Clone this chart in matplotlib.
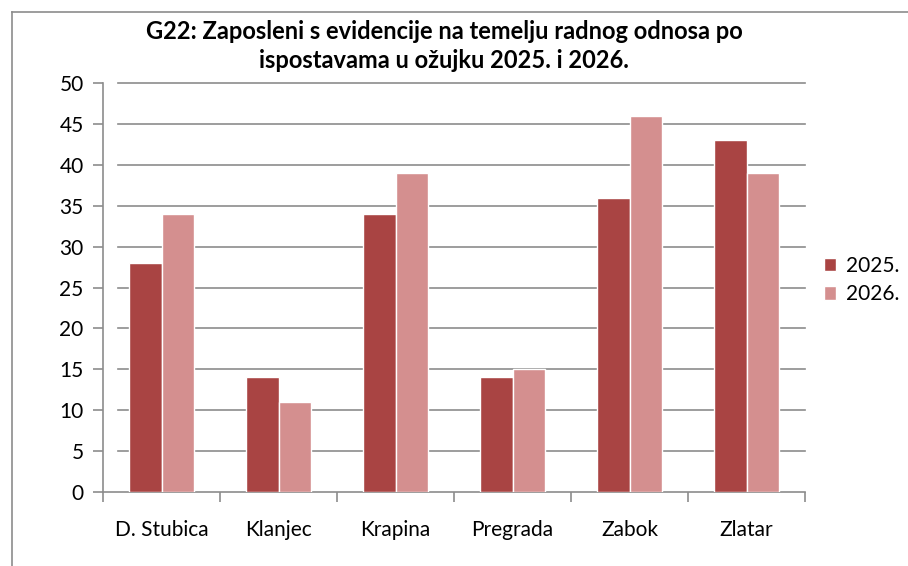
import matplotlib
matplotlib.use("Agg")
import matplotlib.pyplot as plt
import matplotlib.transforms as mtransforms
from matplotlib.lines import Line2D
import numpy as np

categories = ["D. Stubica", "Klanjec", "Krapina", "Pregrada", "Zabok", "Zlatar"]
series_names = ["2025.", "2026."]
values_2025 = [28, 14, 34, 14, 36, 43]
values_2026 = [34, 11, 39, 15, 46, 39]
yticks = [0, 5, 10, 15, 20, 25, 30, 35, 40, 45, 50]
title = "G22: Zaposleni s evidencije na temelju radnog odnosa po\nispostavama u ožujku 2025. i 2026."

c2025 = "#A94443"
c2026 = "#D48F8F"
font = "Lato"

W, H = 908, 566
fig = plt.figure(figsize=(W / 100, H / 100), dpi=100)
fig.patch.set_facecolor("white")

# chart border (top and left visible)
fig.add_artist(Line2D([12 / W, 12 / W], [0, 1 - 12 / H], transform=fig.transFigure,
                      color="#8c8c8c", lw=1.2))
fig.add_artist(Line2D([12 / W, 1], [1 - 12 / H, 1 - 12 / H], transform=fig.transFigure,
                      color="#8c8c8c", lw=1.2))

left, right = 103 / W, 805 / W
bottom, top = 1 - 492 / H, 1 - 83 / H
ax = fig.add_axes([left, bottom, right - left, top - bottom])

x = np.arange(len(categories))
bw = 0.28
ax.bar(x - bw / 2, values_2025, bw, color=c2025, edgecolor="white", linewidth=1.0,
       label=series_names[0], zorder=3)
ax.bar(x + bw / 2, values_2026, bw, color=c2026, edgecolor="white", linewidth=1.0,
       label=series_names[1], zorder=3)

ax.set_xlim(-0.5, len(categories) - 0.5)
ax.set_ylim(0, 50)
ax.set_yticks(yticks)
ax.set_yticklabels([str(t) for t in yticks], fontsize=15, family=font)

# gridlines (start slightly right of axis, like the reference)
trans = mtransforms.blended_transform_factory(ax.transAxes, ax.transData)
for t in yticks[1:]:
    ax.plot([0.021, 1.0], [t, t], transform=trans, color="#8c8c8c", lw=1.2, zorder=1,
            clip_on=False)

ax.set_xticks(x)
ax.set_xticklabels(categories, fontsize=15, family=font)
ax.tick_params(axis="x", length=0, pad=20)
ax.set_xticks(np.arange(-0.5, len(categories), 1.0), minor=True)
ax.tick_params(axis="x", which="minor", length=7, width=1.2, color="#8c8c8c", direction="out")
ax.tick_params(axis="y", length=7, width=1.2, color="#8c8c8c", direction="out", pad=7)

for s in ["top", "right"]:
    ax.spines[s].set_visible(False)
for s in ["left", "bottom"]:
    ax.spines[s].set_color("#8c8c8c")
    ax.spines[s].set_linewidth(1.2)

fig.text(444 / W, 1 - 46 / H, title, ha="center", va="center",
         fontsize=17, fontweight="bold", family=font, linespacing=1.35)

leg = ax.legend(loc="center left", bbox_to_anchor=(1.0, 0.518), frameon=False,
                prop={"family": font, "size": 15}, handlelength=0.6, handleheight=0.6,
                handletextpad=0.45, labelspacing=0.4)

fig.savefig("out.png", dpi=100, facecolor="white")
